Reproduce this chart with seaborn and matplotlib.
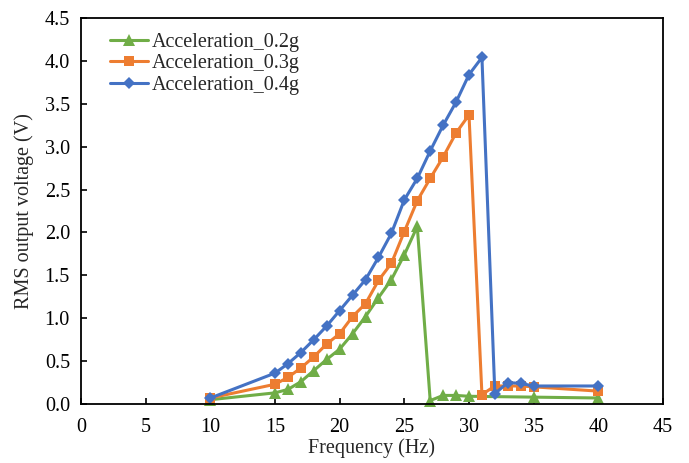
import matplotlib
matplotlib.use("Agg")
import matplotlib.pyplot as plt
import seaborn as sns
import pandas as pd

# Frequency sweep (Hz) and RMS output voltage (V) for each excitation level
freq_02 = [10, 15, 16, 17, 18, 19, 20, 21, 22, 23, 24, 25, 26, 27, 28, 29, 30, 35, 40]
volt_02 = [0.05, 0.13, 0.17, 0.26, 0.39, 0.52, 0.64, 0.82, 1.02, 1.24, 1.45, 1.74, 2.07,
           0.04, 0.10, 0.10, 0.09, 0.08, 0.07]

freq_03 = [10, 15, 16, 17, 18, 19, 20, 21, 22, 23, 24, 25, 26, 27, 28, 29, 30, 31, 32, 33, 34, 35, 40]
volt_03 = [0.07, 0.23, 0.31, 0.42, 0.55, 0.70, 0.82, 1.02, 1.17, 1.44, 1.64, 2.01, 2.37,
           2.63, 2.88, 3.16, 3.37, 0.11, 0.21, 0.21, 0.21, 0.20, 0.15]

freq_04 = [10, 15, 16, 17, 18, 19, 20, 21, 22, 23, 24, 25, 26, 27, 28, 29, 30, 31, 32, 33, 34, 35, 40]
volt_04 = [0.07, 0.36, 0.47, 0.60, 0.75, 0.91, 1.09, 1.27, 1.45, 1.71, 1.99, 2.38, 2.63,
           2.95, 3.25, 3.52, 3.84, 4.04, 0.12, 0.25, 0.24, 0.21, 0.21]

series_names = ["Acceleration_0.2g", "Acceleration_0.3g", "Acceleration_0.4g"]
x_ticks = [0, 5, 10, 15, 20, 25, 30, 35, 40, 45]
y_ticks = [0.0, 0.5, 1.0, 1.5, 2.0, 2.5, 3.0, 3.5, 4.0, 4.5]

sns.set_style("white")
plt.rcParams["font.family"] = ["Liberation Serif", "DejaVu Serif"]

FS = 14.5

fig = plt.figure(figsize=(6.89, 4.63), dpi=100)
ax = fig.add_axes([81 / 689, 1 - 404 / 463, (663 - 81) / 689, (404 - 18) / 463])

styles = [
    (freq_02, volt_02, "#70AD47", "^", 8.5),
    (freq_03, volt_03, "#ED7D31", "s", 7.5),
    (freq_04, volt_04, "#4472C4", "D", 6.3),
]
for name, (fx, vy, col, mk, ms) in zip(series_names, styles):
    df = pd.DataFrame({"Frequency": fx, "Voltage": vy})
    sns.lineplot(data=df, x="Frequency", y="Voltage", ax=ax, color=col,
                 marker=mk, markersize=ms, markeredgewidth=0, linewidth=2.2,
                 label=name, sort=False, clip_on=False)

ax.set_xlim(0, 45)
ax.set_ylim(0, 4.5)
ax.set_xticks(x_ticks)
ax.set_xticklabels([str(v) for v in x_ticks])
ax.set_yticks(y_ticks)
ax.set_yticklabels([f"{v:.1f}" for v in y_ticks])

ax.tick_params(axis="both", which="major", direction="in", length=4, width=1.2,
               labelsize=FS, colors="black")
ax.tick_params(axis="x", pad=10)
ax.tick_params(axis="y", pad=8)
ax.tick_params(top=False, right=False, bottom=True, left=True)
for s in ax.spines.values():
    s.set_visible(True)
    s.set_color("black")
    s.set_linewidth(1.3)

ax.set_xlabel("Frequency (Hz)", fontsize=FS, labelpad=1)
ax.set_ylabel("RMS output voltage (V)", fontsize=FS, labelpad=8)

leg = ax.legend(loc="upper left", bbox_to_anchor=(0.05, 0.962), frameon=False,
                fontsize=FS, handlelength=1.9, handletextpad=0.15,
                labelspacing=0.12, borderaxespad=0.0, borderpad=0.0)

fig.savefig("out.png", dpi=100)
